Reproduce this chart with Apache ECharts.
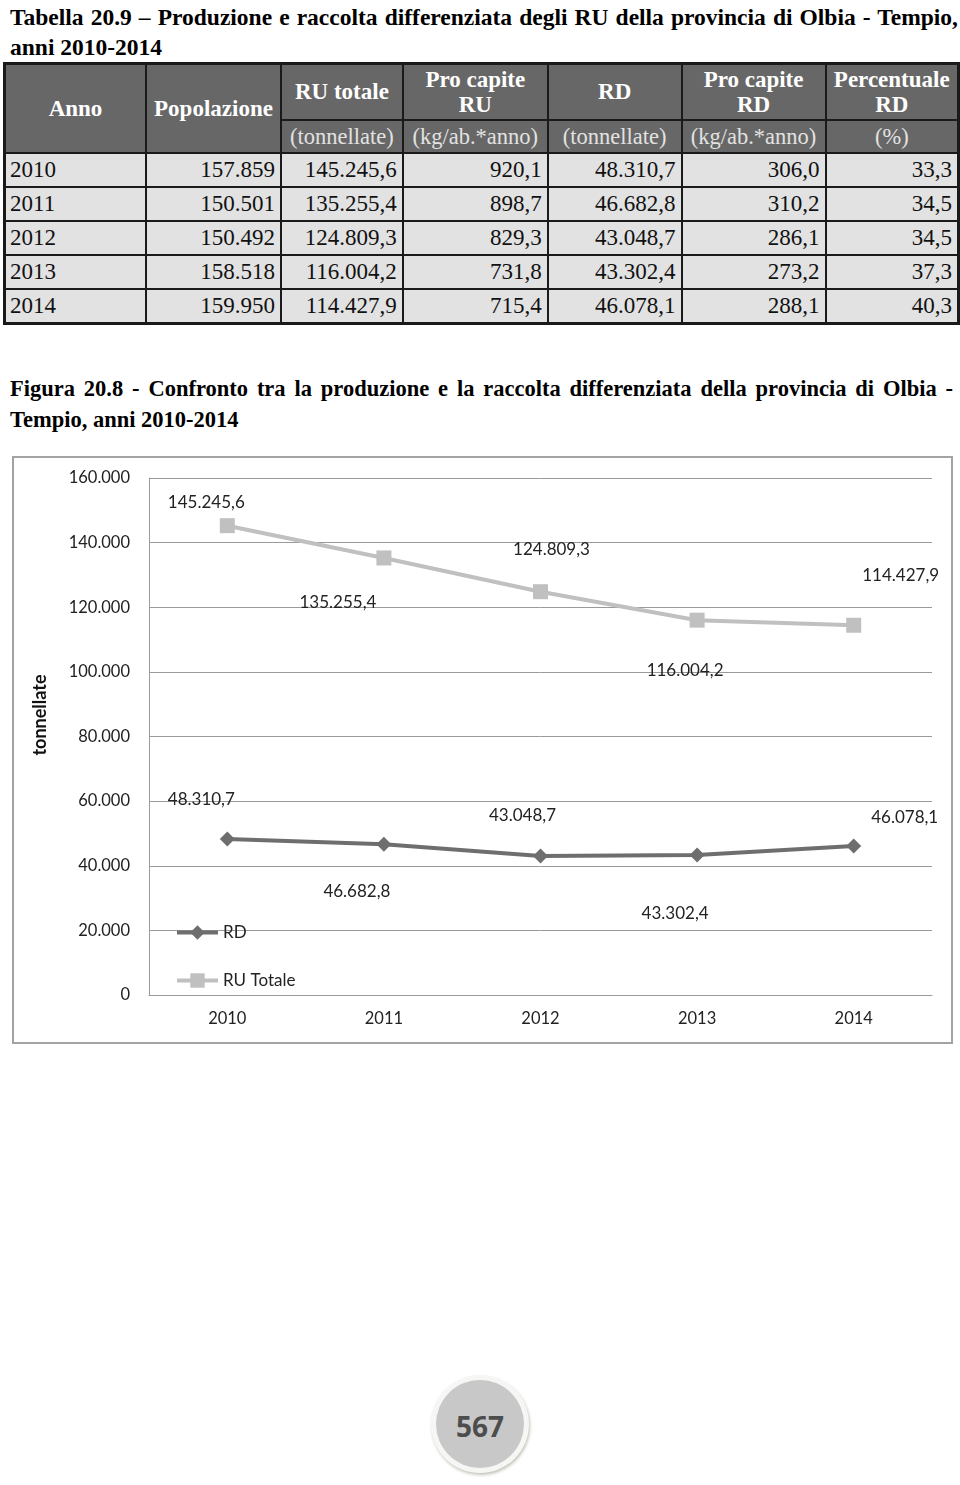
<!DOCTYPE html>
<html>
<head>
<meta charset="utf-8">
<script src="https://cdn.jsdelivr.net/npm/echarts@6/dist/echarts.min.js"></script>
<style>
    body { margin: 0; background: #fff; width: 960px; height: 1485px; position: relative; overflow: hidden; }
    .titolo { position: absolute; left: 10px; font-family: "Liberation Serif", serif; font-weight: bold; color: #000; text-align: justify; }
    #tabTitle { top: 2px; font-size: 23.5px; line-height: 30px; width: 948px; }
    #figTitle { top: 373px; font-size: 22.5px; line-height: 31px; width: 943px; }
    #tabella { position: absolute; left: 3px; top: 62px; border-collapse: collapse; font-family: "Liberation Serif", serif; border: 3px solid #1a1a1a; table-layout: fixed; }
    #tabella td, #tabella th { border: 2px solid #1a1a1a; padding: 0 5px; white-space: nowrap; }
    #tabella th { background: #676767; color: #fff; font-size: 23px; line-height: 25px; font-weight: bold; padding: 0 2px; }
    #tabella th.unit { font-weight: normal; color: #e2e2e2; font-size: 22.5px; height: 31px; }
    #tabella td { background: #e2e2e2; color: #111; font-size: 23px; height: 32px; line-height: 26px; text-align: right; }
    #tabella td.anno { text-align: left; padding-left: 4px; }
    #chart { position: absolute; left: 12px; top: 456px; width: 942px; height: 589px; }
    #pagina { position: absolute; left: 431px; top: 1375px; width: 98px; height: 98px; border-radius: 50%; background: #f6f6f4; box-shadow: 1px 2px 3px rgba(120,130,100,0.45); }
    #pagina div { position: absolute; left: 5px; top: 5px; width: 88px; height: 88px; border-radius: 50%; background: #c8c8c8; text-align: center; line-height: 92px; font-family: "Open Sans", sans-serif; font-weight: bold; font-size: 28px; color: #4d4d4d; }
</style>
</head>
<body>
<div class="titolo" id="tabTitle">Tabella 20.9 – Produzione e raccolta differenziata degli RU della provincia di Olbia - Tempio, anni 2010-2014</div>
<table id="tabella">
    <colgroup>
        <col style="width:142px"><col style="width:135px"><col style="width:122px"><col style="width:145px"><col style="width:134px"><col style="width:144px"><col style="width:133px">
    </colgroup>
    <thead>
        <tr style="height:56px">
            <th rowspan="2">Anno</th>
            <th rowspan="2">Popolazione</th>
            <th>RU totale</th>
            <th>Pro capite<br>RU</th>
            <th>RD</th>
            <th>Pro capite<br>RD</th>
            <th>Percentuale<br>RD</th>
        </tr>
        <tr>
            <th class="unit">(tonnellate)</th>
            <th class="unit">(kg/ab.*anno)</th>
            <th class="unit">(tonnellate)</th>
            <th class="unit">(kg/ab.*anno)</th>
            <th class="unit">(%)</th>
        </tr>
    </thead>
    <tbody id="corpo"></tbody>
</table>
<div class="titolo" id="figTitle">Figura 20.8 - Confronto tra la produzione e la raccolta differenziata della provincia di Olbia - Tempio, anni 2010-2014</div>
<div id="chart"></div>
<div id="pagina"><div>567</div></div>
<script>
    // dati della tabella 20.9 / figura 20.8
    var anni = ['2010', '2011', '2012', '2013', '2014'];
    var popolazione = [157859, 150501, 150492, 158518, 159950];
    var ruTotale = [145245.6, 135255.4, 124809.3, 116004.2, 114427.9];
    var proCapiteRU = [920.1, 898.7, 829.3, 731.8, 715.4];
    var rdTotale = [48310.7, 46682.8, 43048.7, 43302.4, 46078.1];
    var proCapiteRD = [306.0, 310.2, 286.1, 273.2, 288.1];
    var percentualeRD = [33.3, 34.5, 34.5, 37.3, 40.3];

    // spostamento delle etichette rispetto al punto (come nel grafico Excel)
    var ruLabelOffset = [[-21, -23], [-46, 45], [11, -42], [-12, 50], [47, -50]];
    var rdLabelOffset = [[-26, -39], [-27, 47], [-18, -40], [-22, 58], [51, -29]];

    function fmt(v, dec) {
        var parts = v.toFixed(dec).split('.');
        parts[0] = parts[0].replace(/\B(?=(\d{3})+(?!\d))/g, '.');
        return parts.join(',');
    }

    // righe della tabella
    var corpo = document.getElementById('corpo');
    for (var i = 0; i < anni.length; i++) {
        var tr = document.createElement('tr');
        var celle = [anni[i], fmt(popolazione[i], 0), fmt(ruTotale[i], 1), fmt(proCapiteRU[i], 1),
            fmt(rdTotale[i], 1), fmt(proCapiteRD[i], 1), fmt(percentualeRD[i], 1)];
        for (var j = 0; j < celle.length; j++) {
            var td = document.createElement('td');
            if (j === 0) td.className = 'anno';
            td.textContent = celle[j];
            tr.appendChild(td);
        }
        corpo.appendChild(tr);
    }

    function withOffsets(values, offsets) {
        return values.map(function (v, k) {
            return { value: v, label: { offset: offsets[k] } };
        });
    }

    var rdColor = '#6e6e6e';
    var ruColor = '#c0c0c0';

    var chart = echarts.init(document.getElementById('chart'));
    var option = {
        animation: false,
        textStyle: { fontFamily: 'Lato, sans-serif' },
        graphic: [
            {
                type: 'rect',
                shape: { x: 1, y: 1, width: 939, height: 586 },
                style: { fill: 'none', stroke: '#a3a3a3', lineWidth: 2 },
                z: -1
            },
            {
                type: 'text',
                x: 28, y: 259,
                rotation: Math.PI / 2,
                style: { text: 'tonnellate', fontSize: 18, fontWeight: 'bold', fill: '#111', align: 'center', verticalAlign: 'middle', fontFamily: 'Lato, sans-serif' }
            }
        ],
        grid: { left: 137, top: 22, right: 22, bottom: 50 },
        legend: {
            orient: 'vertical',
            left: 158,
            top: 463,
            itemWidth: 41,
            itemHeight: 18,
            itemGap: 31,
            data: [
                { name: 'RD', lineStyle: { width: 4, color: rdColor } },
                { name: 'RU Totale', lineStyle: { width: 4, color: ruColor } }
            ],
            textStyle: { fontSize: 17, color: '#222' }
        },
        xAxis: {
            type: 'category',
            data: anni,
            boundaryGap: true,
            axisLine: { lineStyle: { color: '#9a9a9a', width: 1 } },
            axisTick: { show: false },
            axisLabel: { fontSize: 16.5, color: '#222', margin: 15 }
        },
        yAxis: {
            type: 'value',
            min: 0,
            max: 160000,
            interval: 20000,
            axisLine: { show: true, lineStyle: { color: '#9a9a9a', width: 1 } },
            axisTick: { show: false },
            splitLine: { lineStyle: { color: '#9a9a9a', width: 1 } },
            axisLabel: {
                fontSize: 16.5, color: '#222', margin: 19,
                formatter: function (v) { return fmt(v, 0); }
            }
        },
        series: [
            {
                name: 'RD',
                type: 'line',
                data: withOffsets(rdTotale, rdLabelOffset),
                symbol: 'diamond',
                symbolSize: 15,
                lineStyle: { width: 4, color: rdColor },
                itemStyle: { color: rdColor },
                label: {
                    show: true, position: 'inside', fontSize: 17, color: '#222',
                    formatter: function (p) { return fmt(p.value, 1); }
                }
            },
            {
                name: 'RU Totale',
                type: 'line',
                data: withOffsets(ruTotale, ruLabelOffset),
                symbol: 'rect',
                symbolSize: 15,
                lineStyle: { width: 4, color: ruColor },
                itemStyle: { color: ruColor },
                label: {
                    show: true, position: 'inside', fontSize: 17, color: '#222',
                    formatter: function (p) { return fmt(p.value, 1); }
                }
            }
        ]
    };
    chart.setOption(option);
</script>
</body>
</html>
